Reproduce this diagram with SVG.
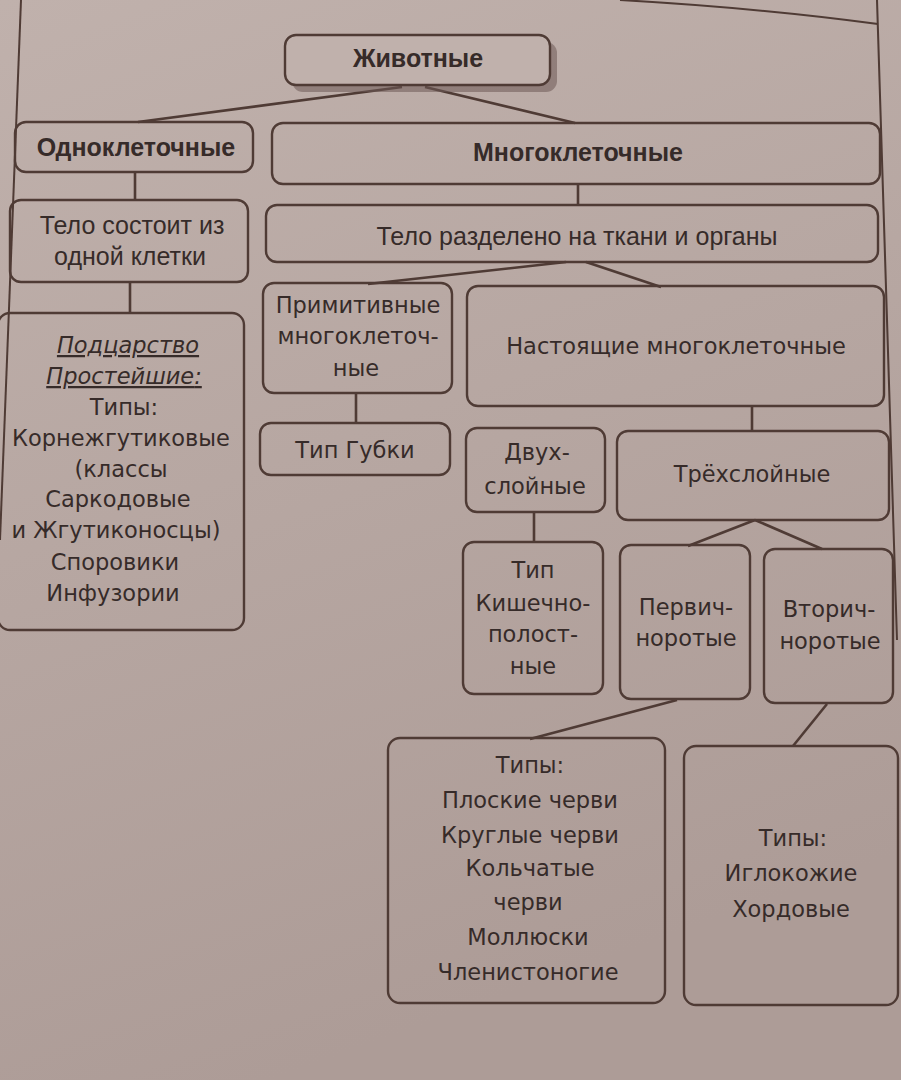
<svg xmlns="http://www.w3.org/2000/svg" width="901" height="1080" viewBox="0 0 901 1080">
<defs>
<linearGradient id="bg" x1="0" y1="0" x2="0.3" y2="1">
<stop offset="0" stop-color="#c0b1ac"/>
<stop offset="1" stop-color="#ad9c97"/>
</linearGradient>
<style>
.box{fill:none;stroke:#4f3b35;stroke-width:2.4}
.frame{fill:none;stroke:#4f3b35;stroke-width:2}
.ln{stroke:#4f3b35;stroke-width:2.6;fill:none}
text{fill:#362b29;text-anchor:middle}
.t{font-family:"DejaVu Sans","Liberation Sans",sans-serif;font-size:22.5px}
.c{font-family:"Liberation Sans",sans-serif;font-size:25px}
.b{font-family:"Liberation Sans",sans-serif;font-size:25px;font-weight:bold}
.u{font-style:italic;text-decoration:underline}
</style>
</defs>
<rect width="901" height="1080" fill="url(#bg)"/>
<g id="page-frame">
<path class="frame" d="M21 0 L0 540"/>
<path class="frame" d="M877 0 L897 640"/>
<path class="frame" d="M620 0 Q760 8 878 24"/>
</g>
<g id="connectors">
<path class="ln" d="M402 87 L138 122"/>
<path class="ln" d="M425 87 L575 123"/>
<path class="ln" d="M135 172 L135 200"/>
<path class="ln" d="M578 183 L578 205"/>
<path class="ln" d="M130 282 L130 313"/>
<path class="ln" d="M566 262 L368 284"/>
<path class="ln" d="M586 262 L661 287"/>
<path class="ln" d="M356 393 L356 423"/>
<path class="ln" d="M752 405 L752 430"/>
<path class="ln" d="M534 512 L534 542"/>
<path class="ln" d="M755 520 L688 546"/>
<path class="ln" d="M755 520 L822 549"/>
<path class="ln" d="M677 700 L530 739"/>
<path class="ln" d="M827 704 L793 746"/>
</g>
<g id="n-animals">
<rect x="292" y="42" width="265" height="50" rx="11" fill="#6e5a55" opacity="0.55"/>
<rect class="box" x="285" y="35" width="265" height="50" rx="11" style="fill:#c0b1ac"/>
<text class="b" x="418" y="67">Животные</text>
</g>
<g id="n-uni">
<rect class="box" x="15" y="122" width="238" height="50" rx="11"/>
<text class="b" x="136" y="156">Одноклеточные</text>
</g>
<g id="n-multi">
<rect class="box" x="272" y="123" width="608" height="61" rx="11"/>
<text class="b" x="578" y="161">Многоклеточные</text>
</g>
<g id="n-onecell">
<rect class="box" x="10" y="200" width="238" height="82" rx="11"/>
<text class="c" x="132" y="234">Тело состоит из</text>
<text class="c" x="130" y="265">одной клетки</text>
</g>
<g id="n-tissues">
<rect class="box" x="266" y="205" width="612" height="57" rx="11"/>
<text class="c" x="577" y="245">Тело разделено на ткани и органы</text>
</g>
<g id="n-protozoa">
<rect class="box" x="-2" y="313" width="246" height="317" rx="12"/>
<text class="t u" x="128" y="353">Подцарство</text>
<text class="t u" x="124" y="384">Простейшие<tspan style="text-decoration:none">:</tspan></text>
<text class="t" x="124" y="415">Типы:</text>
<text class="t" x="121" y="446">Корнежгутиковые</text>
<text class="t" x="121" y="477">(классы</text>
<text class="t" x="118" y="507">Саркодовые</text>
<text class="t" x="116" y="538">и Жгутиконосцы)</text>
<text class="t" x="115" y="570">Споровики</text>
<text class="t" x="113" y="601">Инфузории</text>
</g>
<g id="n-primitive">
<rect class="box" x="263" y="283" width="189" height="110" rx="11"/>
<text class="t" x="358" y="313">Примитивные</text>
<text class="t" x="358" y="344">многоклеточ-</text>
<text class="t" x="356" y="376">ные</text>
</g>
<g id="n-true">
<rect class="box" x="467" y="286" width="417" height="120" rx="11"/>
<text class="t" x="676" y="354">Настоящие многоклеточные</text>
</g>
<g id="n-sponges">
<rect class="box" x="260" y="423" width="190" height="52" rx="11"/>
<text class="t" x="355" y="458">Тип Губки</text>
</g>
<g id="n-two">
<rect class="box" x="466" y="428" width="139" height="84" rx="11"/>
<text class="t" x="537" y="460">Двух-</text>
<text class="t" x="535" y="494">слойные</text>
</g>
<g id="n-three">
<rect class="box" x="617" y="431" width="272" height="89" rx="11"/>
<text class="t" x="752" y="482">Трёхслойные</text>
</g>
<g id="n-coel">
<rect class="box" x="463" y="542" width="140" height="152" rx="11"/>
<text class="t" x="533" y="578">Тип</text>
<text class="t" x="533" y="611">Кишечно-</text>
<text class="t" x="533" y="642">полост-</text>
<text class="t" x="533" y="674">ные</text>
</g>
<g id="n-proto">
<rect class="box" x="620" y="545" width="130" height="154" rx="11"/>
<text class="t" x="686" y="615">Первич-</text>
<text class="t" x="686" y="646">норотые</text>
</g>
<g id="n-deut">
<rect class="box" x="764" y="549" width="129" height="154" rx="11"/>
<text class="t" x="829" y="617">Вторич-</text>
<text class="t" x="830" y="649">норотые</text>
</g>
<g id="n-worms">
<rect class="box" x="388" y="738" width="277" height="265" rx="12"/>
<text class="t" x="530" y="773">Типы:</text>
<text class="t" x="530" y="808">Плоские черви</text>
<text class="t" x="530" y="843">Круглые черви</text>
<text class="t" x="530" y="876">Кольчатые</text>
<text class="t" x="528" y="910">черви</text>
<text class="t" x="528" y="945">Моллюски</text>
<text class="t" x="528" y="980">Членистоногие</text>
</g>
<g id="n-chord">
<rect class="box" x="684" y="746" width="214" height="259" rx="12"/>
<text class="t" x="793" y="846">Типы:</text>
<text class="t" x="791" y="881">Иглокожие</text>
<text class="t" x="791" y="917">Хордовые</text>
</g>
</svg>
